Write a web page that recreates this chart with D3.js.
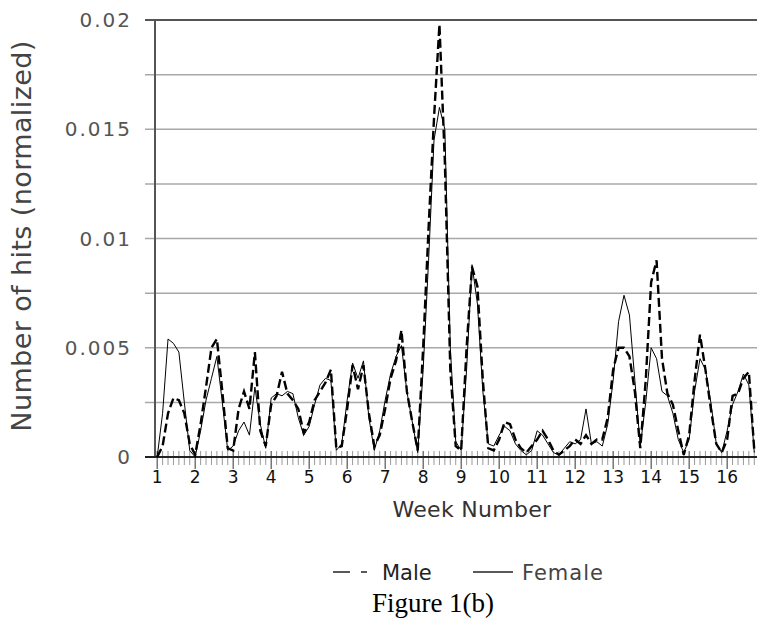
<!DOCTYPE html>
<html>
<head>
<meta charset="utf-8">
<script src="https://cdn.jsdelivr.net/npm/d3@7/dist/d3.min.js"></script>
<style>
body { margin: 0; background: #fff; }
</style>
</head>
<body>
<div id="chart"></div>
<script>
//
// Hits per day, normalized (day 0 = start of week 1)
//

var femaleHits = [0, 0.0020, 0.0054, 0.0052, 0.0048, 0.0025, 0.0003, 0, 0.0012, 0.0026,
	0.0036, 0.0046, 0.0025, 0.0003, 0.0005, 0.0012, 0.0016, 0.0010, 0.0032, 0.0015,
	0.0004, 0.0027, 0.0029, 0.0028, 0.0030, 0.0029, 0.0018, 0.0010, 0.0014, 0.0024,
	0.0033, 0.0036, 0.0035, 0.0003, 0.0006, 0.0026, 0.0043, 0.0036, 0.0044, 0.0018,
	0.0003, 0.0012, 0.0026, 0.0038, 0.0046, 0.0051, 0.0030, 0.0016, 0.0002, 0.0040,
	0.0090, 0.0145, 0.0160, 0.0150, 0.0050, 0.0007, 0.0003, 0.0040, 0.0088, 0.0070,
	0.0030, 0.0006, 0.0005, 0.0010, 0.0014, 0.0012, 0.0006, 0.0003, 0.0001, 0.0003,
	0.0012, 0.0010, 0.0006, 0.0002, 0.0001, 0.0004, 0.0007, 0.0006, 0.0008, 0.0022,
	0.0006, 0.0007, 0.0005, 0.0015, 0.0035, 0.0062, 0.0074, 0.0065, 0.0035, 0.0005,
	0.0025, 0.0050, 0.0045, 0.0030, 0.0028, 0.0020, 0.0008, 0.0002, 0.0008, 0.0030,
	0.0045, 0.0040, 0.0025, 0.0006, 0.0002, 0.0012, 0.0024, 0.0030, 0.0038, 0.0033,
	0.0002];

var maleHits = [0, 0.0005, 0.0020, 0.0027, 0.0026, 0.0020, 0.0006, 0.0001, 0.0015, 0.0032,
	0.0050, 0.0054, 0.0030, 0.0004, 0.0003, 0.0022, 0.0030, 0.0022, 0.0048, 0.0012,
	0.0005, 0.0024, 0.0028, 0.0039, 0.0029, 0.0026, 0.0022, 0.0011, 0.0016, 0.0026,
	0.0030, 0.0034, 0.0040, 0.0004, 0.0005, 0.0022, 0.0042, 0.0031, 0.0042, 0.0020,
	0.0005, 0.0010, 0.0022, 0.0036, 0.0044, 0.0058, 0.0030, 0.0016, 0.0003, 0.0050,
	0.0105, 0.0155, 0.0198, 0.0135, 0.0040, 0.0005, 0.0003, 0.0050, 0.0087, 0.0078,
	0.0035, 0.0004, 0.0003, 0.0008, 0.0016, 0.0015, 0.0008, 0.0004, 0.0002, 0.0005,
	0.0008, 0.0012, 0.0008, 0.0003, 0.0001, 0.0003, 0.0005, 0.0008, 0.0006, 0.0010,
	0.0006, 0.0008, 0.0008, 0.0018, 0.0040, 0.0050, 0.0050, 0.0046, 0.0030, 0.0004,
	0.0035, 0.0080, 0.0090, 0.0045, 0.0029, 0.0024, 0.0012, 0.0001, 0.0010, 0.0035,
	0.0056, 0.0040, 0.0022, 0.0006, 0.0002, 0.0008, 0.0028, 0.0029, 0.0036, 0.0039,
	0.0003];

var weekLabels = [1, 2, 3, 4, 5, 6, 7, 8, 9, 10, 11, 12, 13, 14, 15, 16];
var yTicks = [0, 0.0025, 0.005, 0.0075, 0.01, 0.0125, 0.015, 0.0175, 0.02];
var yLabels = [0, 0.005, 0.01, 0.015, 0.02];

var total_width = 757, total_height = 622;
var margin = {top: 20, right: 0, bottom: 165, left: 155},
	width = total_width - margin.left - margin.right,
	height = total_height - margin.top - margin.bottom;

var svg = d3.select("#chart").append("svg")
		.attr("width", total_width)
		.attr("height", total_height)
		.style("font-family", "'DejaVu Sans', sans-serif");

var g = svg.append("g")
		.attr("transform", "translate(" + margin.left + "," + margin.top + ")");

// x runs in days, y in normalized hits
var x = d3.scaleLinear()
	.domain([-0.4, 110.5])
	.range([0, width]);

var y = d3.scaleLinear()
	.domain([0, 0.02])
	.range([height, 0]);

// grid
g.selectAll(".grid")
	.data(yTicks)
	.enter()
	.append("line")
		.attr("x1", -10)
		.attr("x2", width)
		.attr("y1", d => y(d))
		.attr("y2", d => y(d))
		.attr("stroke", d => d == 0.02 ? "#555" : "#a8a8a8")
		.attr("stroke-width", d => d == 0.02 ? 2 : 1.5);

// y axis line
g.append("line")
	.attr("x1", 0).attr("x2", 0)
	.attr("y1", 0).attr("y2", height)
	.attr("stroke", "#555")
	.attr("stroke-width", 2);

g.selectAll(".ylab")
	.data(yLabels)
	.enter()
	.append("text")
		.attr("x", -23)
		.attr("y", d => y(d))
		.attr("dy", "0.36em")
		.attr("text-anchor", "end")
		.attr("font-size", 20)
		.attr("letter-spacing", 2)
		.attr("fill", "#555")
		.text(d => d);

// daily ticks
var dayTicks = x.ticks(110).filter(d => Number.isInteger(d) && d >= 0 && d <= 110);
g.selectAll(".dtick")
	.data(dayTicks)
	.enter()
	.append("line")
		.attr("x1", d => x(d)).attr("x2", d => x(d))
		.attr("y1", height - 6)
		.attr("y2", d => d % 7 == 0 ? height + 12 : height + 8)
		.attr("stroke", d => d % 7 == 0 ? "#333" : "#999")
		.attr("stroke-width", 1);

// baseline
g.append("line")
	.attr("x1", -10).attr("x2", width)
	.attr("y1", height).attr("y2", height)
	.attr("stroke", "#222")
	.attr("stroke-width", 2);

g.selectAll(".wlab")
	.data(weekLabels)
	.enter()
	.append("text")
		.attr("x", d => x((d - 1) * 7))
		.attr("y", height + 26)
		.attr("text-anchor", "middle")
		.attr("font-size", 17)
		.attr("fill", "#111")
		.text(d => d);

// series
var line = d3.line()
	.x((d, i) => x(i))
	.y(d => y(d));

g.append("path")
	.datum(femaleHits)
	.attr("fill", "none")
	.attr("stroke", "#000")
	.attr("stroke-width", 1)
	.attr("d", line);

g.append("path")
	.datum(maleHits)
	.attr("fill", "none")
	.attr("stroke", "#000")
	.attr("stroke-width", 2.4)
	.attr("stroke-dasharray", "9,4")
	.attr("d", line);

// titles
svg.append("text")
	.attr("x", 472)
	.attr("y", 517)
	.attr("text-anchor", "middle")
	.attr("font-size", 22)
	.attr("letter-spacing", 0.3)
	.attr("fill", "#333")
	.text("Week Number");

svg.append("text")
	.attr("transform", "translate(31,236) rotate(-90)")
	.attr("text-anchor", "middle")
	.attr("font-size", 27)
	.attr("letter-spacing", 0.4)
	.attr("fill", "#444")
	.text("Number of hits (normalized)");

// legend
var legend = svg.append("g").attr("transform", "translate(0,572)");
legend.append("line")
	.attr("x1", 333).attr("x2", 350).attr("y1", 0).attr("y2", 0)
	.attr("stroke", "#222").attr("stroke-width", 1.5);
legend.append("line")
	.attr("x1", 361).attr("x2", 367).attr("y1", 0).attr("y2", 0)
	.attr("stroke", "#222").attr("stroke-width", 1.5);
legend.append("text")
	.attr("x", 382).attr("y", 8)
	.attr("font-size", 21).attr("fill", "#222")
	.text("Male");
legend.append("line")
	.attr("x1", 473).attr("x2", 513).attr("y1", 0).attr("y2", 0)
	.attr("stroke", "#222").attr("stroke-width", 1.5);
legend.append("text")
	.attr("x", 522).attr("y", 8)
	.attr("font-size", 21).attr("letter-spacing", 1)
	.attr("fill", "#444")
	.text("Female");

svg.append("text")
	.attr("x", 433)
	.attr("y", 612)
	.attr("text-anchor", "middle")
	.attr("font-family", "'Liberation Serif', serif")
	.attr("font-size", 27)
	.attr("fill", "#000")
	.text("Figure 1(b)");
</script>
</body>
</html>
